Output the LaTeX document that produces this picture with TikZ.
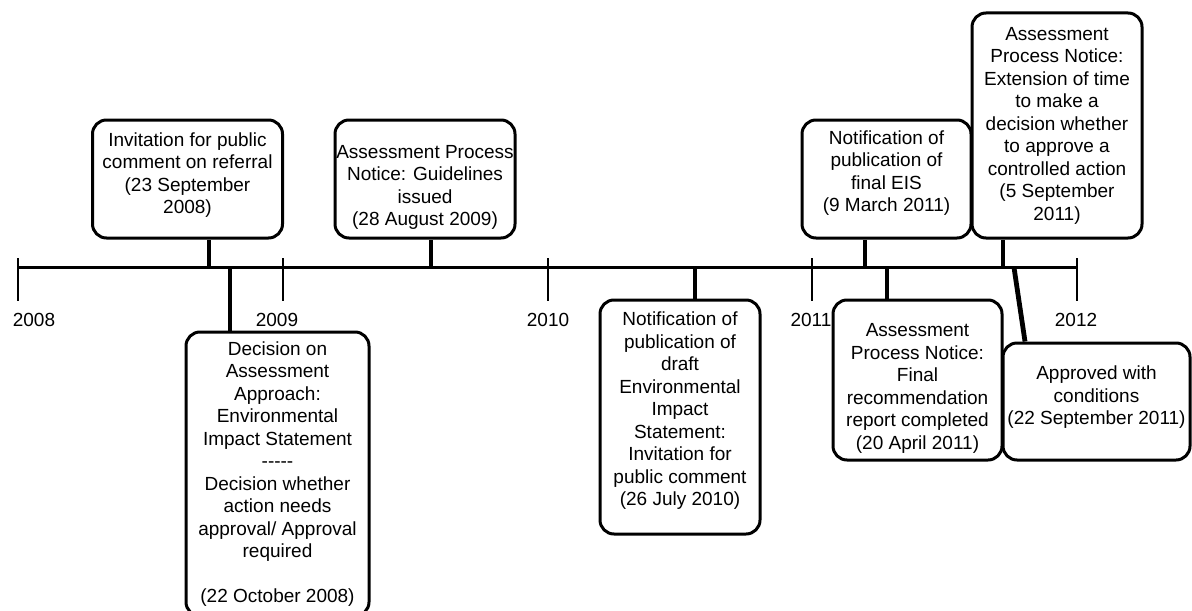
\documentclass[tikz,border=0pt]{standalone}
\usepackage{fontspec}
\setmainfont{Liberation Sans}
\usetikzlibrary{shapes,arrows}

\newcommand{\sepdashes}{\mbox{-}\mbox{-}\mbox{-}\mbox{-}\mbox{-}}
\newcommand{\pushdown}[1]{\rule{0pt}{\dimexpr6.9pt+#1\relax}}
\newcommand{\pushup}[1]{\rule[-\dimexpr2pt+#1\relax]{0pt}{0pt}}

\begin{document}
\begin{tikzpicture}[x=0.5pt, y=-0.5pt]
\tikzstyle{eventbox}=[rectangle, rounded corners=7pt, draw=black, line width=1.5pt, fill=white, align=center, inner sep=0pt, font=\fontsize{9.5}{11.25}\selectfont]
\tikzstyle{yearlabel}=[inner sep=0pt, font=\fontsize{9.5}{11.25}\selectfont]
\tikzstyle{stemstyle}=[line width=2.4pt]
\tikzstyle{tickstyle}=[line width=1pt]

\useasboundingbox (0,0) rectangle (1192,610);

% time axis
\coordinate (Y2008) at (18,267.5);
\coordinate (Y2009) at (283,267.5);
\coordinate (Y2010) at (548,267.5);
\coordinate (Y2011) at (812,267.5);
\coordinate (Y2012) at (1077,267.5);
\draw[line width=1.7pt] (Y2008) -- (Y2012);
\foreach \yr in {2008,2009,2010,2011,2012}
  \draw[tickstyle] (Y\yr) ++(0,-9.5) -- ++(0,43);

\node[yearlabel] (L2008) at (34,320) {2008};
\node[yearlabel] (L2009) at (277,320) {2009};
\node[yearlabel] (L2010) at (548,320) {2010};
\node[yearlabel] (L2011) at (811,320) {2011};
\node[yearlabel] (L2012) at (1076,320) {2012};

% events above the axis
\node[eventbox, minimum width=95pt, minimum height=59pt] (A) at (187.5,179) {Invitation for public\\comment on referral\\(23 September\\2008)\pushup{4pt}};
\node[eventbox, minimum width=90pt, minimum height=59pt] (C) at (425,179) {\pushdown{8pt}Assessment Process\\Notice: Guidelines\\issued\\(28 August 2009)};
\node[eventbox, minimum width=84.5pt, minimum height=59pt] (E) at (886.5,179) {Notification of\\publication of\\final EIS\\(9 March 2011)\pushup{6pt}};
\node[eventbox, minimum width=85pt, minimum height=112.5pt] (G) at (1057,125.5) {Assessment\\Process Notice:\\Extension of time\\to make a\\decision whether\\to approve a\\controlled action\\(5 September\\2011)};

% events below the axis
\node[eventbox, minimum width=91.5pt, minimum height=142pt] (B) at (277.5,474) {Decision on\\Assessment\\Approach:\\Environmental\\Impact Statement\\\sepdashes\\Decision whether\\action needs\\approval/ Approval\\required\\~\\(22 October 2008)};
\node[eventbox, minimum width=80pt, minimum height=117pt] (D) at (680,417) {Notification of\\publication of\\draft\\Environmental\\Impact\\Statement:\\Invitation for\\public comment\\(26 July 2010)\pushup{6pt}};
\node[eventbox, minimum width=84.5pt, minimum height=80pt] (F) at (917.5,380) {\pushdown{8pt}Assessment\\Process Notice:\\Final\\recommendation\\report completed\\(20 April 2011)};
\node[eventbox, minimum width=93.5pt, minimum height=58.5pt] (H) at (1096.5,401.5) {Approved with\\conditions\\(22 September 2011)\pushup{4pt}};

% stems
\coordinate (SA) at (209,267.5);
\coordinate (SB) at (230,267.5);
\coordinate (SC) at (431,267.5);
\coordinate (SD) at (695,267.5);
\coordinate (SE) at (865,267.5);
\coordinate (SF) at (887,267.5);
\coordinate (SG) at (1003,267.5);
\coordinate (SH) at (1014,267.5);
\coordinate (TH) at (1025,267.5);
\draw[stemstyle] (SA) -- (SA |- A.south);
\draw[stemstyle] (SB) -- (SB |- B.north);
\draw[stemstyle] (SC) -- (SC |- C.south);
\draw[stemstyle] (SD) -- (SD |- D.north);
\draw[stemstyle] (SE) -- (SE |- E.south);
\draw[stemstyle] (SF) -- (SF |- F.north);
\draw[stemstyle] (SG) -- (SG |- G.south);
\draw[stemstyle] (SH) -- (TH |- H.north);
\end{tikzpicture}
\end{document}
